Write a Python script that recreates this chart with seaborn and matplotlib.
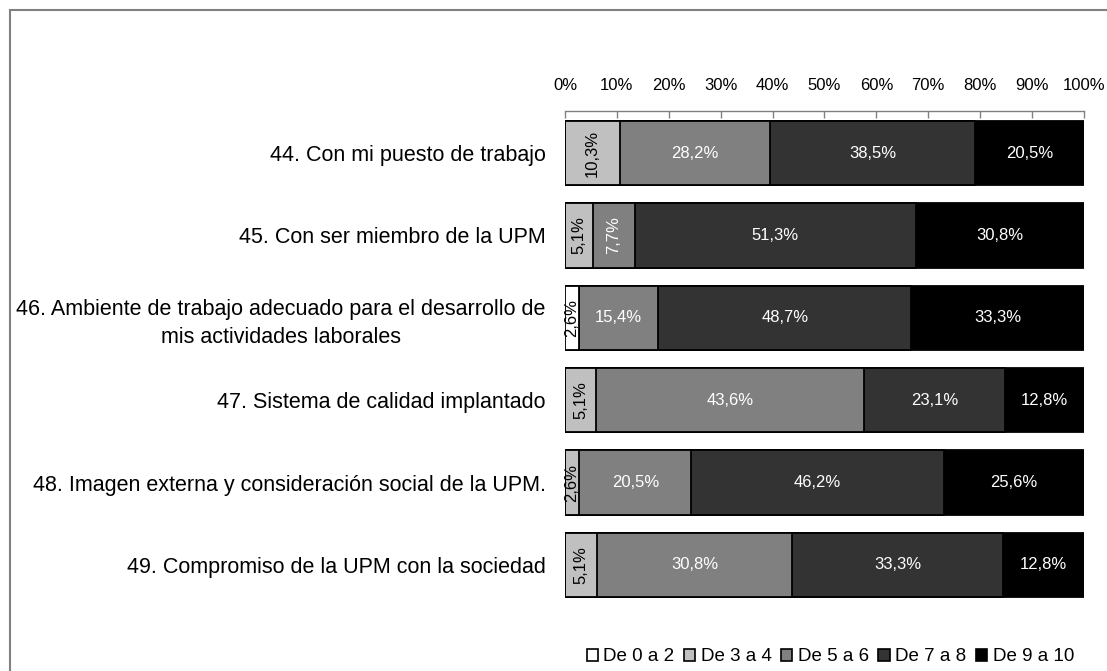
import pandas as pd
import numpy as np
import matplotlib
matplotlib.use("Agg")
import matplotlib.pyplot as plt
import seaborn as sns
from matplotlib.patches import Patch, Rectangle

# datos (porcentajes tal como aparecen en las etiquetas)
items = [
    "44. Con mi puesto de trabajo",
    "45. Con ser miembro de la UPM",
    "46. Ambiente de trabajo adecuado para el desarrollo de\nmis actividades laborales",
    "47. Sistema de calidad implantado",
    "48. Imagen externa y consideración social de la UPM.",
    "49. Compromiso de la UPM con la sociedad",
]
categorias = ["De 0 a 2", "De 3 a 4", "De 5 a 6", "De 7 a 8", "De 9 a 10"]
de_0_a_2 = [0.0, 0.0, 2.6, 0.0, 0.0, 0.0]
de_3_a_4 = [10.3, 5.1, 0.0, 5.1, 2.6, 5.1]
de_5_a_6 = [28.2, 7.7, 15.4, 43.6, 20.5, 30.8]
de_7_a_8 = [38.5, 51.3, 48.7, 23.1, 46.2, 33.3]
de_9_a_10 = [20.5, 30.8, 33.3, 12.8, 25.6, 12.8]

colores = ["#ffffff", "#c0c0c0", "#808080", "#333333", "#000000"]
color_texto = ["black", "black", "white", "white", "white"]

df = pd.DataFrame({"item": items})
for cat, vals in zip(categorias, [de_0_a_2, de_3_a_4, de_5_a_6, de_7_a_8, de_9_a_10]):
    df[cat] = vals

# normalizar cada fila a 100% y acumular
total = df[categorias].sum(axis=1)
norm = df[categorias].div(total, axis=0) * 100
cum = norm.cumsum(axis=1)
cum["item"] = df["item"]

sns.set_style("white")
plt.rcParams["font.family"] = ["Liberation Sans", "DejaVu Sans"]
plt.rcParams["text.color"] = "black"

fig = plt.figure(figsize=(11.07, 6.71), dpi=100)
ax = fig.add_axes([0.5104, 0.0954, 0.4688, 0.7392])

# barras apiladas: se dibuja de la acumulada mayor a la menor
for cat, col in reversed(list(zip(categorias, colores))):
    sns.barplot(data=cum, y="item", x=cat, color=col, orient="h", width=0.78,
                edgecolor="black", linewidth=1.3, saturation=1, ax=ax)

# etiquetas de valores
for i in range(len(items)):
    izq = 0
    for j, cat in enumerate(categorias):
        v = df.loc[i, cat]
        w = norm.loc[i, cat]
        if v > 0:
            rot = 90 if v < 11 else 0
            ax.text(izq + w / 2, i, f"{v:.1f}%".replace(".", ","), ha="center", va="center",
                    rotation=rot, color=color_texto[j], fontsize=12)
        izq += w

ax.set_xlim(0, 100)
ax.set_ylim(len(items) - 0.49, -0.51)
ax.xaxis.tick_top()
ax.set_xticks(np.arange(0, 101, 10))
ax.set_xticklabels([f"{t}%" for t in range(0, 101, 10)], fontsize=12)
ax.tick_params(axis="x", direction="in", length=5, width=1, color="#808080", pad=13,
               labelcolor="black")
ax.tick_params(axis="y", length=0, pad=14, labelsize=15.5, labelcolor="black")
for lbl in ax.get_yticklabels():
    lbl.set_multialignment("center")
    lbl.set_linespacing(1.4)
ax.set_xlabel("")
ax.set_ylabel("")
for s in ["left", "right", "bottom"]:
    ax.spines[s].set_visible(False)
ax.spines["top"].set_color("#808080")
ax.spines["top"].set_linewidth(1)

handles = [Patch(facecolor=c, edgecolor="black", linewidth=1.2) for c in colores]
fig.legend(handles, categorias, loc="center", bbox_to_anchor=(0.75, 0.021), ncol=5,
           frameon=False, fontsize=13.5, handlelength=0.6, handleheight=0.6,
           handletextpad=0.3, columnspacing=0.5)

# marco exterior
fig.patches.append(Rectangle((10 / 1107, -0.1), 1.2, 1.1 - 10 / 671, transform=fig.transFigure,
                             fill=False, edgecolor="#808080", linewidth=1.5))

fig.savefig("out.png", dpi=100)
